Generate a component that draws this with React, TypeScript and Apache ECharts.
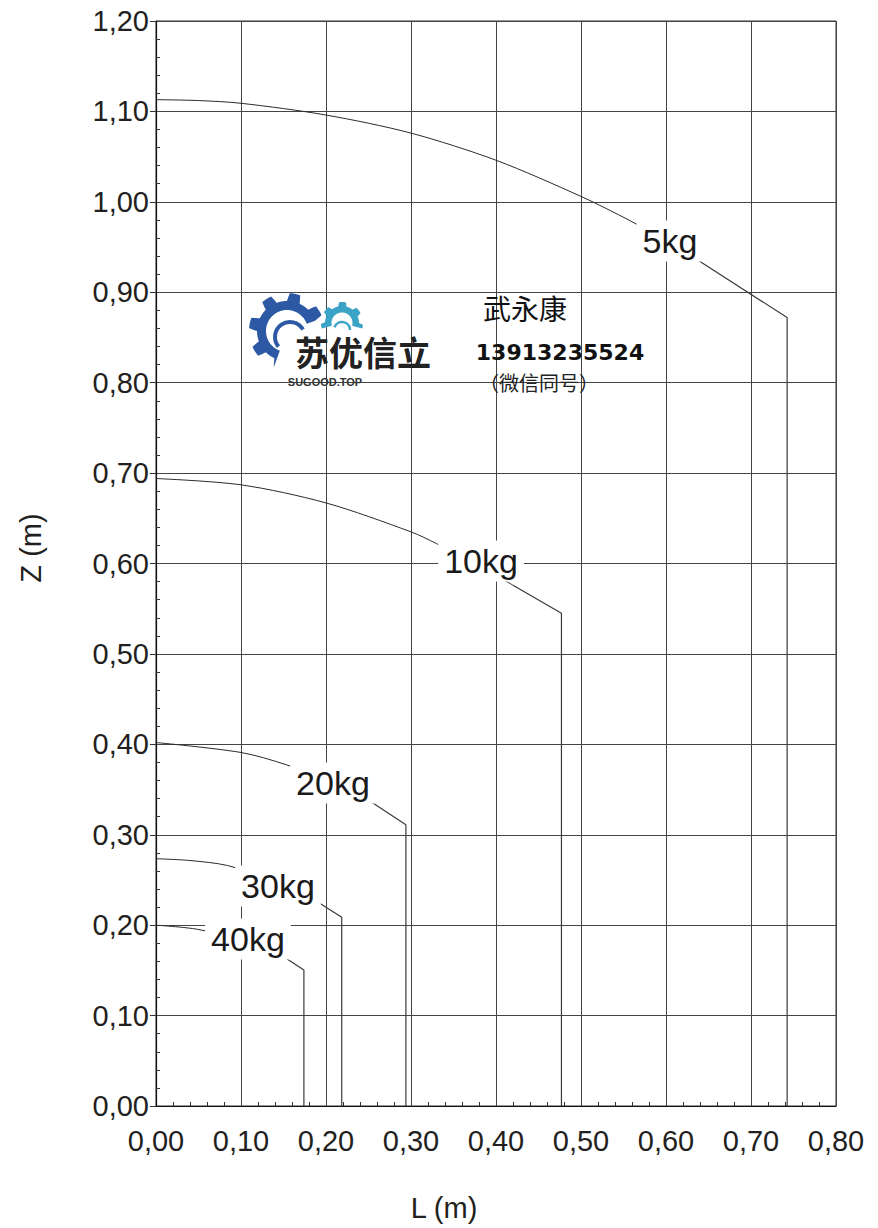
import React, { useEffect, useRef } from "react";
import * as echarts from "echarts";

// ---- data (L in m, Z in m) ----
const loads = ["5kg", "10kg", "20kg", "30kg", "40kg"];

const curve5 = [[0, 1.113], [0.05, 1.112], [0.1, 1.109], [0.2, 1.096], [0.3, 1.076], [0.4, 1.046], [0.5, 1.006], [0.558, 0.979], [0.6, 0.957], [0.64, 0.934]];
const tail5 = [[0.64, 0.934], [0.7425, 0.872], [0.7425, 0]];

const curve10 = [[0, 0.694], [0.1, 0.687], [0.2, 0.667], [0.3, 0.635], [0.33, 0.622], [0.375, 0.6], [0.42, 0.576]];
const tail10 = [[0.42, 0.576], [0.477, 0.545], [0.477, 0]];

const curve20 = [[0, 0.402], [0.1, 0.391], [0.153, 0.3775], [0.2, 0.36], [0.252, 0.337]];
const tail20 = [[0.252, 0.337], [0.294, 0.311], [0.294, 0]];

const curve30 = [[0, 0.2735], [0.04, 0.2715], [0.084, 0.266], [0.136, 0.25], [0.188, 0.227]];
const tail30 = [[0.188, 0.227], [0.2185, 0.2087], [0.2185, 0]];

const curve40 = [[0, 0.2], [0.049, 0.1954], [0.1, 0.183], [0.152, 0.164]];
const tail40 = [[0.152, 0.164], [0.174, 0.1504], [0.174, 0]];

const curves = [curve5, curve10, curve20, curve30, curve40];
const tails = [tail5, tail10, tail20, tail30, tail40];

// label anchor points (data coordinates)
const labelL = [0.6047, 0.3824, 0.2082, 0.1435, 0.1082];
const labelZ = [0.9567, 0.6028, 0.3572, 0.2433, 0.1847];

const xMin = 0, xMax = 0.8, xStep = 0.1;
const yMin = 0, yMax = 1.2, yStep = 0.1;

const FONT = '"Liberation Sans", Arial, Helvetica, sans-serif';
const TXT = "#231f20";

// ---- logo gear shapes ----
function gearD(rTip: number, rRoot: number, rHole: number, teeth: number, a0: number, a1: number) {
  const period = 360 / teeth;
  const pts: string[] = [];
  for (let a = a0; a <= a1 + 1e-6; a += 0.5) {
    const ph = ((((a % period) + period) % period) / period);
    let f = 0;
    if (ph < 0.1) f = ph / 0.1;
    else if (ph < 0.45) f = 1;
    else if (ph < 0.55) f = (0.55 - ph) / 0.1;
    const r = rRoot + (rTip - rRoot) * f;
    const rad = (a * Math.PI) / 180;
    pts.push(`${(r * Math.cos(rad)).toFixed(2)} ${(r * Math.sin(rad)).toFixed(2)}`);
  }
  for (let a = a1; a >= a0 - 1e-6; a -= 1) {
    const rad = (a * Math.PI) / 180;
    pts.push(`${(rHole * Math.cos(rad)).toFixed(2)} ${(rHole * Math.sin(rad)).toFixed(2)}`);
  }
  return "M" + pts.join(" L") + " Z";
}

let shapesRegistered = false;
function registerShapes() {
  if (shapesRegistered) return;
  shapesRegistered = true;
  echarts.graphic.registerShape("gearBlue", echarts.graphic.extendPath(gearD(38, 30, 21, 8, 110, 340), {}) as any);
  echarts.graphic.registerShape("gearTeal", echarts.graphic.extendPath(gearD(21, 17, 10.5, 7, 165, 375), {}) as any);
}

const fmt = (v: number) => v.toFixed(2).replace(".", ",");

export default function App() {
  const ref = useRef<HTMLDivElement>(null);

  useEffect(() => {
    document.body.style.margin = "0";
    registerShapes();
    const chart = echarts.init(ref.current!, null, { renderer: "svg" });

    const series: any[] = [];
    curves.forEach((c, i) => {
      series.push({
        type: "line",
        data: c,
        smooth: 0.3,
        symbol: "none",
        lineStyle: { color: "#2a2a2a", width: 1 },
        z: 3,
        silent: true,
      });
      series.push({
        type: "line",
        data: tails[i],
        smooth: false,
        symbol: "none",
        lineStyle: { color: "#3a3a3a", width: 1.2 },
        z: 3,
        silent: true,
      });
    });
    series.push({
      type: "scatter",
      data: loads.map((n, i) => [labelL[i], labelZ[i], n]),
      symbol: "circle",
      symbolSize: 1,
      itemStyle: { color: "#ffffff", opacity: 1 },
      z: 10,
      silent: true,
      label: {
        show: true,
        position: "inside",
        formatter: (p: any) => p.data[2],
        fontFamily: FONT,
        fontSize: 34,
        color: "#1a1a1a",
        opacity: 1,
        textBorderWidth: 0,
        textBorderColor: "transparent",
        backgroundColor: "#ffffff",
        padding: [4, 6, 3, 6],
      },
    });

    const option: any = {
      animation: false,
      backgroundColor: "#ffffff",
      grid: {
        left: 156,
        top: 21,
        right: 42,
        bottom: 122,
        containLabel: false,
        outerBoundsMode: "none",
        show: true,
        borderColor: "#333",
        borderWidth: 1,
      },
      xAxis: [
        {
          type: "value",
          min: xMin,
          max: xMax,
          interval: xStep,
          axisLine: { show: true, lineStyle: { color: "#111", width: 1.2 } },
          axisTick: { show: false, inside: true },
          minorTick: { show: true, splitNumber: 5, length: 4, lineStyle: { color: "#333", width: 1 } },
          axisLabel: { formatter: fmt, fontFamily: FONT, fontSize: 29, color: TXT, margin: 20 },
          splitLine: { show: true, lineStyle: { color: "#444", width: 1 } },
        },
      ],
      yAxis: [
        {
          type: "value",
          min: yMin,
          max: yMax,
          interval: yStep,
          axisLine: { show: true, lineStyle: { color: "#111", width: 1.2 } },
          axisTick: { show: true, inside: false, length: 6, lineStyle: { color: "#333" } },
          axisLabel: { formatter: fmt, fontFamily: FONT, fontSize: 29, color: TXT, margin: 7 },
          splitLine: { show: true, lineStyle: { color: "#444", width: 1 } },
        },
        {
          type: "value",
          min: yMin,
          max: yMax,
          interval: yStep,
          position: "left",
          axisLine: { show: false },
          axisTick: { show: false, inside: true },
          minorTick: { show: true, splitNumber: 5, length: 4, lineStyle: { color: "#333", width: 1 } },
          axisLabel: { show: false },
          splitLine: { show: false },
        },
      ],
      graphic: [
        {
          type: "text",
          x: 444,
          y: 1208,
          style: { text: "L (m)", fontFamily: FONT, fontSize: 29, fill: TXT, align: "center", verticalAlign: "middle" },
        },
        {
          type: "text",
          x: 31,
          y: 548,
          rotation: Math.PI / 2,
          style: { text: "Z (m)", fontFamily: FONT, fontSize: 29, fill: TXT, align: "center", verticalAlign: "middle" },
        },
        // logo
        { type: "gearBlue", x: 287, y: 331, style: { fill: "#2d58a4" }, z: 20 },
        {
          type: "arc",
          shape: { cx: 290, cy: 337, r: 15, startAngle: (140 * Math.PI) / 180, endAngle: (330 * Math.PI) / 180, clockwise: true },
          style: { stroke: "#2d58a4", lineWidth: 4, fill: "none" },
          z: 20,
        },
        { type: "gearTeal", x: 342, y: 323, style: { fill: "#3aa3c6" }, z: 20 },
        {
          type: "arc",
          shape: { cx: 342, cy: 330, r: 8, startAngle: (200 * Math.PI) / 180, endAngle: (360 * Math.PI) / 180, clockwise: true },
          style: { stroke: "#3aa3c6", lineWidth: 2.5, fill: "none" },
          z: 20,
        },
        {
          type: "text",
          x: 363,
          y: 351,
          style: { text: "苏优信立", fontFamily: '"Noto Sans CJK SC"', fontWeight: "bold", fontSize: 34, fill: "#222", align: "center", verticalAlign: "middle" },
          z: 21,
        },
        {
          type: "text",
          x: 325,
          y: 382,
          style: { text: "SUGOOD.TOP", fontFamily: FONT, fontWeight: "bold", fontSize: 11, fill: "#333", align: "center", verticalAlign: "middle" },
          z: 21,
        },
        {
          type: "text",
          x: 525,
          y: 308,
          style: { text: "武永康", fontFamily: '"Noto Sans CJK SC"', fontSize: 28, fill: "#111", align: "center", verticalAlign: "middle" },
          z: 21,
        },
        {
          type: "text",
          x: 560,
          y: 352,
          style: { text: "13913235524", fontFamily: '"DejaVu Sans", sans-serif', fontWeight: "bold", fontSize: 22, fill: "#111", align: "center", verticalAlign: "middle" },
          z: 21,
        },
        {
          type: "text",
          x: 539,
          y: 382,
          style: { text: "（微信同号）", fontFamily: '"Noto Sans CJK SC"', fontSize: 20, fill: "#222", align: "center", verticalAlign: "middle" },
          z: 21,
        },
      ],
      series,
    };

    chart.setOption(option);
    return () => chart.dispose();
  }, []);

  return <div ref={ref} style={{ width: 878, height: 1228 }} />;
}
